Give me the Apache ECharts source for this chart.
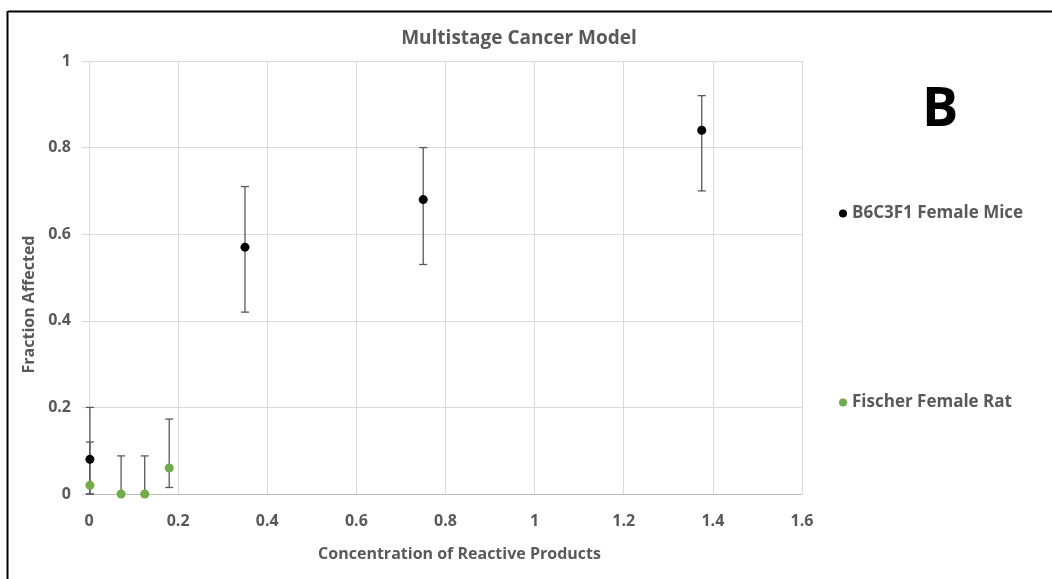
<!DOCTYPE html>
<html>
<head>
<meta charset="utf-8">
<script src="https://cdn.jsdelivr.net/npm/echarts@6/dist/echarts.min.js"></script>
<style>
html,body{margin:0;padding:0;background:#fff;}
#chart{width:1052px;height:579px;}
</style>
</head>
<body>
<div id="chart"></div>
<script>
// Data
var miceX = [0.002, 0.35, 0.75, 1.375];
var miceY = [0.08, 0.57, 0.68, 0.84];
var miceLow = [0.0, 0.42, 0.53, 0.70];
var miceHigh = [0.20, 0.71, 0.80, 0.92];

var ratX = [0.002, 0.072, 0.125, 0.18];
var ratY = [0.02, 0.0, 0.0, 0.06];
var ratLow = [0.0, 0.0, 0.0, 0.015];
var ratHigh = [0.12, 0.088, 0.088, 0.173];

var xTicks = [0, 0.2, 0.4, 0.6, 0.8, 1, 1.2, 1.4, 1.6];
var yTicks = [0, 0.2, 0.4, 0.6, 0.8, 1];

var FONT = '"Open Sans", sans-serif';
var TXT = '#595959';

function pts(xs, ys) { return xs.map(function (x, i) { return [x, ys[i]]; }); }
function errs(xs, lo, hi) { return xs.map(function (x, i) { return [x, lo[i], hi[i]]; }); }

function errRender(params, api) {
  var x = api.value(0);
  var lo = api.coord([x, api.value(1)]);
  var hi = api.coord([x, api.value(2)]);
  var hw = 4;
  var style = { stroke: '#595959', lineWidth: 1.3 };
  return {
    type: 'group',
    children: [
      { type: 'line', shape: { x1: hi[0], y1: hi[1], x2: lo[0], y2: lo[1] }, style: style },
      { type: 'line', shape: { x1: hi[0] - hw, y1: hi[1], x2: hi[0] + hw, y2: hi[1] }, style: style },
      { type: 'line', shape: { x1: lo[0] - hw, y1: lo[1], x2: lo[0] + hw, y2: lo[1] }, style: style }
    ]
  };
}

var chart = echarts.init(document.getElementById('chart'), null, { renderer: 'canvas' });
var option = {
  backgroundColor: '#fff',
  animation: false,
  title: {
    text: 'Multistage Cancer Model',
    left: 514, top: 24, textAlign: 'center',
    textStyle: { fontFamily: FONT, fontSize: 19, fontWeight: 'bold', color: TXT }
  },
  graphic: [
    { type: 'line', shape: { x1: 8, y1: 11.5, x2: 1052, y2: 11.5 }, style: { stroke: '#000', lineWidth: 2 } },
    { type: 'line', shape: { x1: 7.5, y1: 11, x2: 7.5, y2: 579 }, style: { stroke: '#000', lineWidth: 2 } },
    { type: 'text', left: 922, top: 84, style: { text: 'B', font: 'bold 54px "Open Sans", sans-serif', fill: '#000' } }
  ],
  legend: {
    orient: 'vertical',
    left: 834, top: 200,
    itemGap: 172,
    itemWidth: 8, itemHeight: 8,
    icon: 'circle',
    textStyle: { fontFamily: FONT, fontSize: 17, fontWeight: 'bold', color: TXT },
    data: ['B6C3F1 Female Mice', 'Fischer Female Rat']
  },
  grid: { left: 89, right: 250, top: 61, bottom: 85, containLabel: false },
  xAxis: {
    type: 'value', min: 0, max: 1.6, interval: 0.2,
    name: 'Concentration of Reactive Products',
    nameLocation: 'middle', nameGap: 52,
    nameTextStyle: { fontFamily: FONT, fontSize: 16, fontWeight: 'bold', color: TXT, padding: [0, 0, 0, 28] },
    axisLine: { show: true, onZero: false, lineStyle: { color: '#bfbfbf', width: 1 } },
    axisTick: { show: false },
    splitLine: { show: true, lineStyle: { color: '#d9d9d9', width: 1 } },
    axisLabel: {
      fontFamily: FONT, fontSize: 16, fontWeight: 'bold', color: TXT, margin: 19,
      formatter: function (v) { var i = xTicks.indexOf(Math.round(v * 10) / 10); return i >= 0 ? String(xTicks[i]) : ''; }
    }
  },
  yAxis: {
    type: 'value', min: 0, max: 1, interval: 0.2,
    name: 'Fraction Affected',
    nameLocation: 'middle', nameGap: 50,
    nameTextStyle: { fontFamily: FONT, fontSize: 16, fontWeight: 'bold', color: TXT, padding: [0, 54, 0, 0] },
    axisLine: { show: false },
    axisTick: { show: true, inside: false, length: 7, lineStyle: { color: '#d9d9d9' } },
    splitLine: { show: true, lineStyle: { color: '#d9d9d9', width: 1 } },
    axisLabel: {
      fontFamily: FONT, fontSize: 16, fontWeight: 'bold', color: TXT, margin: 18,
      formatter: function (v) { var i = yTicks.indexOf(Math.round(v * 10) / 10); return i >= 0 ? String(yTicks[i]) : ''; }
    }
  },
  series: [
    {
      name: 'B6C3F1 Female Mice', type: 'custom', renderItem: errRender,
      data: errs(miceX, miceLow, miceHigh), z: 2, silent: true,
      encode: { x: 0, y: [1, 2] }, itemStyle: { color: '#000' }
    },
    {
      name: 'Fischer Female Rat', type: 'custom', renderItem: errRender,
      data: errs(ratX, ratLow, ratHigh), z: 2, silent: true,
      encode: { x: 0, y: [1, 2] }, itemStyle: { color: '#70ad47' }
    },
    {
      name: 'B6C3F1 Female Mice', type: 'scatter', symbol: 'circle', symbolSize: 9,
      data: pts(miceX, miceY), itemStyle: { color: '#000', opacity: 1 }, z: 5
    },
    {
      name: 'Fischer Female Rat', type: 'scatter', symbol: 'circle', symbolSize: 9,
      data: pts(ratX, ratY), itemStyle: { color: '#70ad47', opacity: 1 }, z: 5
    }
  ]
};
chart.setOption(option);
</script>
</body>
</html>
